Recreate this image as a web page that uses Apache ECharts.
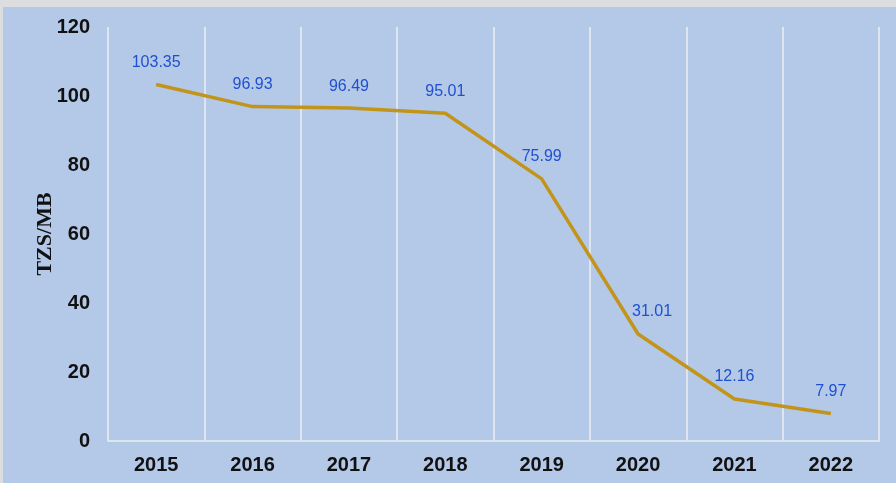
<!DOCTYPE html>
<html><head><meta charset="utf-8">
<script src="https://cdn.jsdelivr.net/npm/echarts@6/dist/echarts.min.js"></script>
<style>
html,body{margin:0;padding:0;background:#dcdddf;width:896px;height:483px;overflow:hidden;}
#c{position:absolute;left:3px;top:7px;width:893px;height:476px;}
</style></head><body>
<div id="c"></div>
<script>
const categories = ['2015','2016','2017','2018','2019','2020','2021','2022'];
const values = [103.35, 96.93, 96.49, 95.01, 75.99, 31.01, 12.16, 7.97];
const yTicks = {min: 0, max: 120, interval: 20};

const chart = echarts.init(document.getElementById('c'));
chart.setOption({
  backgroundColor: '#b4c8e8',
  animation: false,
  grid: {left: 105, right: 17, top: 20, bottom: 42},
  xAxis: {
    type: 'category',
    data: categories,
    boundaryGap: true,
    axisLine: {show: true, lineStyle: {color: '#dfe5ef', width: 2}},
    axisTick: {show: false},
    splitLine: {show: true, lineStyle: {color: '#dfe5ef', width: 2}},
    axisLabel: {color: '#111', fontSize: 20, fontWeight: 'bold', fontFamily: 'Liberation Sans, Arial, sans-serif', margin: 14}
  },
  yAxis: {
    type: 'value',
    min: yTicks.min, max: yTicks.max, interval: yTicks.interval,
    name: 'TZS/MB',
    nameLocation: 'middle',
    nameGap: 52,
    nameMoveOverlap: false,
    nameRotate: 90,
    nameTextStyle: {color: '#111', fontSize: 22, fontWeight: 'bold', fontFamily: 'Liberation Serif, Times New Roman, serif'},
    axisLine: {show: false},
    axisTick: {show: false},
    splitLine: {show: false},
    axisLabel: {color: '#111', fontSize: 20, fontWeight: 'bold', fontFamily: 'Liberation Sans, Arial, sans-serif', margin: 18}
  },
  series: [{
    type: 'line',
    data: values.map((v, i) => i === 5 ? {value: v, label: {offset: [14, 0]}} : v),
    symbol: 'circle',
    symbolSize: 2,
    showSymbol: true,
    itemStyle: {color: 'rgba(0,0,0,0)', borderWidth: 0},
    lineStyle: {color: '#c2951a', width: 3.5},
    label: {
      show: true, position: 'top', distance: 13,
      color: '#1f50cf', fontSize: 16, fontFamily: 'Liberation Sans, Arial, sans-serif',
      formatter: p => p.value.toFixed(2)
    }
  }]
});
</script>
</body></html>
